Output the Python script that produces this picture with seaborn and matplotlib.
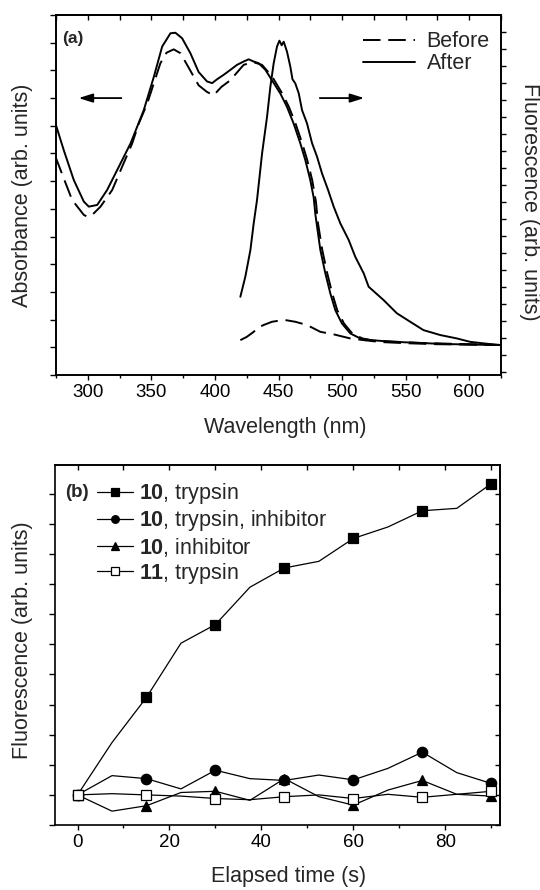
import numpy as np
import pandas as pd
import matplotlib
matplotlib.use("Agg")
import matplotlib.pyplot as plt
import seaborn as sns
from matplotlib.ticker import MultipleLocator, NullFormatter

# ---------------------------------------------------------------
# DATA
# ---------------------------------------------------------------
# panel (a) absorbance, left axis (arb. units)
abs_after_nm = [274.6, 281.1, 289.0, 296.9, 300.8, 307.4, 315.2, 323.1, 333.6, 344.0,
                351.9, 358.5, 365.0, 368.9, 374.2, 380.7, 387.2, 393.8, 397.8, 401.7,
                406.9, 412.2, 417.4, 422.6, 426.5, 430.5, 434.4, 439.7, 444.9, 451.5,
                456.7, 461.9, 467.2, 471.1, 475.0, 477.7, 479.0, 482.9, 486.8, 490.8,
                494.7, 499.9, 506.5, 514.3, 522.2, 540.0, 560.0, 580.0, 600.0, 625.0]
abs_after = [4.04, 3.56, 3.02, 2.63, 2.54, 2.57, 2.84, 3.20, 3.68, 4.28,
             4.88, 5.43, 5.67, 5.68, 5.58, 5.31, 4.97, 4.80, 4.77, 4.84,
             4.92, 5.01, 5.10, 5.16, 5.20, 5.16, 5.13, 5.01, 4.82, 4.58,
             4.34, 4.04, 3.68, 3.38, 3.02, 2.70, 2.40, 1.76, 1.34, 0.97,
             0.67, 0.43, 0.25, 0.16, 0.13, 0.10, 0.08, 0.06, 0.05, 0.04]

abs_before_nm = [274.6, 281.1, 287.7, 296.9, 299.5, 303.0, 310.0, 319.2, 327.0, 334.9,
                 340.1, 346.7, 349.3, 357.1, 362.0, 367.6, 372.9, 378.1, 383.0, 387.2,
                 393.8, 399.0, 405.0, 412.0, 422.6, 430.0, 437.0, 442.0, 446.0, 453.0,
                 458.2, 463.4, 468.7, 472.6, 476.5, 479.5, 481.0, 484.4, 488.3, 492.3,
                 496.2, 501.5, 508.0, 516.0, 525.0, 560.0, 625.0]
abs_before = [3.44, 3.05, 2.66, 2.39, 2.36, 2.38, 2.54, 2.84, 3.26, 3.68,
              4.04, 4.40, 4.58, 5.13, 5.32, 5.38, 5.31, 5.10, 4.90, 4.73,
              4.61, 4.55, 4.70, 4.82, 5.10, 5.15, 5.10, 4.97, 4.85, 4.58,
              4.34, 4.04, 3.68, 3.38, 3.02, 2.62, 2.25, 1.76, 1.34, 0.97,
              0.67, 0.43, 0.25, 0.16, 0.12, 0.08, 0.04]

# panel (a) fluorescence, right axis (arb. units)
fl_after_nm = [420.0, 423.9, 427.9, 430.5, 433.1, 437.1, 441.0, 443.6, 446.2, 448.8,
               450.7, 452.5, 454.1, 456.7, 459.3, 461.0, 463.2, 465.9, 468.5, 472.4,
               476.4, 480.3, 484.2, 489.0, 493.4, 498.6, 505.2, 510.4, 517.0, 520.9,
               532.6, 543.1, 553.6, 564.0, 577.2, 590.3, 600.7, 611.2, 624.3]
fl_after = [4.41, 5.59, 7.16, 8.73, 10.10, 12.85, 15.00, 16.76, 18.14, 19.12,
            19.47, 19.20, 19.41, 18.82, 17.94, 17.20, 16.96, 16.38, 15.39, 14.61,
            13.44, 12.65, 11.67, 10.69, 9.71, 8.73, 7.75, 6.76, 5.79, 5.00,
            4.22, 3.44, 2.94, 2.45, 2.16, 1.96, 1.76, 1.67, 1.57]

fl_before_nm = [420.0, 425.0, 430.5, 434.0, 438.3, 444.9, 450.0, 455.4, 463.2, 472.4,
                482.9, 493.4, 506.5, 517.0, 530.0, 550.0, 575.0, 600.0, 624.0]
fl_before = [1.86, 2.05, 2.35, 2.60, 2.75, 2.94, 3.00, 3.04, 2.94, 2.75,
             2.35, 2.20, 1.96, 1.86, 1.75, 1.68, 1.62, 1.60, 1.58]

# panel (b) fluorescence vs elapsed time
time_s = [0, 7.5, 15, 22.5, 30, 37.5, 45, 52.5, 60, 67.5, 75, 82.5, 90]
trypsin_10 = [0, 0.87, 1.62, 2.52, 2.83, 3.45, 3.77, 3.88, 4.26, 4.45, 4.72, 4.76, 5.17]
trypsin_inhib_10 = [0, 0.32, 0.27, 0.10, 0.41, 0.27, 0.24, 0.33, 0.25, 0.44, 0.71, 0.37, 0.19]
inhib_10 = [0, -0.27, -0.18, 0.04, 0.06, -0.09, 0.27, -0.03, -0.17, 0.08, 0.24, 0.01, -0.02]
trypsin_11 = [0, 0.02, 0.0, -0.02, -0.06, -0.08, -0.03, 0.0, -0.06, 0.01, -0.04, 0.01, 0.06]

# ---------------------------------------------------------------
# STYLE
# ---------------------------------------------------------------
sns.set_theme(style="ticks")
plt.rcParams["font.family"] = ["Liberation Sans", "DejaVu Sans"]
plt.rcParams["mathtext.fontset"] = "custom"
plt.rcParams["mathtext.rm"] = "Liberation Sans"
plt.rcParams["mathtext.bf"] = "Liberation Sans:bold"
plt.rcParams["axes.linewidth"] = 1.2
plt.rcParams["axes.edgecolor"] = "black"
plt.rcParams["xtick.color"] = "black"
plt.rcParams["ytick.color"] = "black"

LABEL_FS = 15.5
TICK_FS = 13.5

fig = plt.figure(figsize=(5.4, 8.9), dpi=100)
ax_a = fig.add_axes([56 / 540, 1 - 375 / 890, 445 / 540, 360 / 890])
ax_b = fig.add_axes([55 / 540, 1 - 825 / 890, 445 / 540, 360 / 890])

# ---------------------------------------------------------------
# PANEL (a)
# ---------------------------------------------------------------
dash = (0, (9, 4))
sns.lineplot(x=abs_before_nm, y=abs_before, ax=ax_a, color="black", lw=1.4,
             linestyle=dash, label="Before")
sns.lineplot(x=abs_after_nm, y=abs_after, ax=ax_a, color="black", lw=1.4,
             label="After")
ax_a.set_xlim(275, 625)
ax_a.set_ylim(-0.5, 6.0)

ax_a2 = ax_a.twinx()
sns.lineplot(x=fl_before_nm, y=fl_before, ax=ax_a2, color="black", lw=1.4,
             linestyle=dash)
sns.lineplot(x=fl_after_nm, y=fl_after, ax=ax_a2, color="black", lw=1.4)
ax_a2.set_ylim(-0.19, 20.98)
ax_a2.set_xlim(275, 625)

# ticks
ax_a.xaxis.set_major_locator(MultipleLocator(50))
ax_a.xaxis.set_minor_locator(MultipleLocator(25))
ax_a.yaxis.set_major_locator(MultipleLocator(1))
ax_a.yaxis.set_minor_locator(MultipleLocator(0.5))
ax_a.yaxis.set_major_formatter(NullFormatter())
ax_a.tick_params(axis="x", which="major", direction="out", length=3.6, width=1.0,
                 labelsize=TICK_FS, pad=3)
ax_a.tick_params(axis="x", which="minor", direction="out", length=2.4, width=1.0)
ax_a.tick_params(axis="y", which="both", direction="out", length=4, width=1.0)
ax_a2.yaxis.set_major_locator(MultipleLocator(1))
ax_a2.yaxis.set_major_formatter(NullFormatter())
ax_a2.tick_params(axis="y", direction="out", length=3.5, width=1.0)

top_a = ax_a.secondary_xaxis("top")
top_a.xaxis.set_major_locator(MultipleLocator(25))
top_a.xaxis.set_major_formatter(NullFormatter())
top_a.tick_params(axis="x", direction="in", length=3.5, width=1.0)

ax_a.set_xlabel("Wavelength (nm)", fontsize=LABEL_FS, va="center")
ax_a.xaxis.set_label_coords(0.515, -0.147)
ax_a.set_ylabel("Absorbance (arb. units)", fontsize=LABEL_FS, va="center")
ax_a.yaxis.set_label_coords(-0.076, 0.5)
ax_a2.set_ylabel("Fluorescence (arb. units)", fontsize=LABEL_FS, rotation=270,
                 va="center")
ax_a2.yaxis.set_label_coords(1.065, 0.48)

# arrows pointing at the axis each curve belongs to
arrow = dict(arrowstyle="-|>,head_length=0.7,head_width=0.22", color="black", lw=1.3)
ax_a.annotate("", xy=(290.6, 4.5), xytext=(328.6, 4.5), arrowprops=arrow)
ax_a.annotate("", xy=(519.6, 4.5), xytext=(480.3, 4.5), arrowprops=arrow)

ax_a.text(0.013, 0.936, "(a)", transform=ax_a.transAxes, fontsize=12.5,
          fontweight="bold", va="center", ha="left")
ax_a.legend(loc="upper left", bbox_to_anchor=(0.69, 0.955), frameon=False,
            fontsize=15.5, handlelength=2.4, handletextpad=0.55, labelspacing=0.05,
            borderpad=0, borderaxespad=0)

# ---------------------------------------------------------------
# PANEL (b)
# ---------------------------------------------------------------
series_b = [
    (trypsin_10, "s", "black", r"$\mathbf{10}$, trypsin"),
    (trypsin_inhib_10, "o", "black", r"$\mathbf{10}$, trypsin, inhibitor"),
    (inhib_10, "^", "black", r"$\mathbf{10}$, inhibitor"),
    (trypsin_11, "s", "white", r"$\mathbf{11}$, trypsin"),
]
for vals, mk, face, lab in series_b:
    sns.lineplot(x=time_s, y=vals, ax=ax_b, color="black", lw=0.9,
                 marker=mk, markevery=2, markersize=7.5,
                 markerfacecolor=face, markeredgecolor="black",
                 markeredgewidth=0.9, label=lab)

ax_b.set_xlim(-4.9, 91.9)
ax_b.set_ylim(-0.5, 5.48)
ax_b.xaxis.set_major_locator(MultipleLocator(20))
ax_b.xaxis.set_minor_locator(MultipleLocator(10))
ax_b.yaxis.set_major_locator(MultipleLocator(1))
ax_b.yaxis.set_minor_locator(MultipleLocator(0.5))
ax_b.yaxis.set_major_formatter(NullFormatter())
ax_b.tick_params(axis="x", which="major", direction="out", length=3.6, width=1.0,
                 labelsize=TICK_FS, pad=3)
ax_b.tick_params(axis="x", which="minor", direction="out", length=2.4, width=1.0)
ax_b.tick_params(axis="y", which="both", direction="out", length=4, width=1.0)

top_b = ax_b.secondary_xaxis("top")
top_b.xaxis.set_major_locator(MultipleLocator(10))
top_b.xaxis.set_major_formatter(NullFormatter())
top_b.tick_params(axis="x", direction="in", length=3.5, width=1.0)
right_b = ax_b.secondary_yaxis("right")
right_b.yaxis.set_major_locator(MultipleLocator(0.5))
right_b.yaxis.set_major_formatter(NullFormatter())
right_b.tick_params(axis="y", direction="in", length=3.5, width=1.0)

ax_b.set_xlabel("Elapsed time (s)", fontsize=LABEL_FS, va="center")
ax_b.xaxis.set_label_coords(0.525, -0.142)
ax_b.set_ylabel("Fluorescence (arb. units)", fontsize=LABEL_FS, va="center")
ax_b.yaxis.set_label_coords(-0.074, 0.514)

ax_b.text(0.022, 0.925, "(b)", transform=ax_b.transAxes, fontsize=13.5,
          fontweight="bold", va="center", ha="left")
leg = ax_b.legend(loc="upper left", bbox_to_anchor=(0.094, 0.955), frameon=False,
                  fontsize=15.5, handlelength=1.7, handletextpad=0.25,
                  labelspacing=0.1, borderpad=0, borderaxespad=0, numpoints=1)
for h in leg.legend_handles:
    h.set_markersize(5.5)

fig.savefig("out.png", dpi=100)
